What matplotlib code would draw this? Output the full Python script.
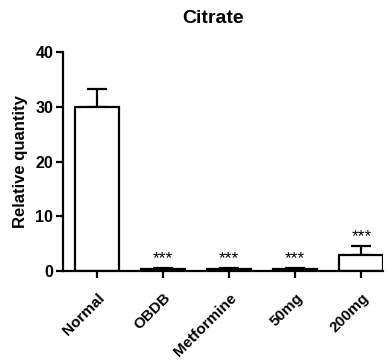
import matplotlib
matplotlib.use("Agg")
import matplotlib.pyplot as plt

plt.rcParams['font.family'] = ['Liberation Sans', 'DejaVu Sans']

groups = ["Normal", "OBDB", "Metformine", "50mg", "200mg"]
means = [29.9, 0.35, 0.35, 0.35, 3.0]
errs = [3.3, 0.15, 0.15, 0.2, 1.6]
marks = ["", "***", "***", "***", "***"]

fig = plt.figure(figsize=(3.89, 3.61), dpi=100)
ax = fig.add_axes([0.162, 0.249, 0.823, 0.607])

x = list(range(len(groups)))
lw = 1.6
ax.bar(x, means, width=0.67, color="white", edgecolor="black", linewidth=lw, zorder=2)
ax.errorbar(x, means, yerr=[[0] * len(errs), errs], fmt="none", ecolor="black",
            elinewidth=lw, capsize=7, capthick=lw, zorder=1)

for xi, m, e, s in zip(x, means, errs, marks):
    if s:
        ax.text(xi, m + e + 0.4, s, ha="center", va="bottom", fontsize=12.5)

ax.set_xlim(-0.515, 4.33)
ax.set_ylim(0, 40)
ax.set_yticks([0, 10, 20, 30, 40])
ax.set_xticks(x)
ax.set_xticklabels(groups, rotation=45, ha="right", rotation_mode="anchor",
                   fontsize=11, fontweight="bold")
for lab in ax.get_yticklabels():
    lab.set_fontweight("bold")
    lab.set_fontsize(11.5)

ax.spines["top"].set_visible(False)
ax.spines["right"].set_visible(False)
ax.spines["left"].set_linewidth(lw)
ax.spines["bottom"].set_linewidth(lw)
ax.tick_params(axis="y", direction="out", length=5, width=lw, pad=2)
ax.tick_params(axis="x", direction="out", length=5, width=lw, pad=9)

ax.set_ylabel("Relative quantity", fontsize=12, fontweight="bold", labelpad=5)
fig.text(0.548, 0.95, "Citrate", ha="center", va="center", fontsize=14, fontweight="bold")

fig.savefig("out.png", dpi=100)
